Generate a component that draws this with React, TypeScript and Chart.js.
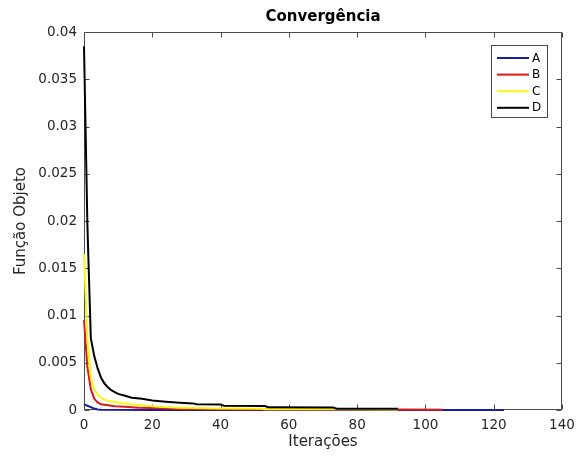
import React, { useEffect, useRef } from "react";
import { Chart, registerables } from "chart.js";

Chart.register(...registerables);

const chartTitle = "Convergência";
const xTitle = "Iterações";
const yTitle = "Função Objeto";

const xTicks = [0, 20, 40, 60, 80, 100, 120, 140];
const yTicks = [0, 0.005, 0.01, 0.015, 0.02, 0.025, 0.03, 0.035, 0.04];
const yTickLabels = ["0", "0.005", "0.01", "0.015", "0.02", "0.025", "0.03", "0.035", "0.04"];

const seriesLabels = ["A", "B", "C", "D"];
const seriesColors = ["#1c1ca0", "#e01818", "#f8f810", "#000000"];

const aX = [0, 1, 2, 3, 4, 5, 20, 123];
const aY = [0.0006, 0.00045, 0.0003, 0.00015, 0.00005, 0.00002, 0.00001, 0.000005];

const bX = [0, 1, 2, 3, 4, 5, 7, 9, 12, 16, 20, 26, 27, 40, 60, 92, 105];
const bY = [0.0095, 0.0045, 0.0022, 0.0012, 0.0008, 0.0006, 0.0005, 0.0004, 0.00035, 0.00025, 0.0002, 0.00015, 0.0001, 0.00008, 0.00006, 0.00004, 0.00003];

const cX = [0, 1, 2, 3, 4, 5, 6, 8, 10, 14, 18, 22, 28, 35, 40, 52, 53, 73, 92];
const cY = [0.0165, 0.0075, 0.0035, 0.0022, 0.0016, 0.0013, 0.0011, 0.0009, 0.0008, 0.0006, 0.00045, 0.00035, 0.00025, 0.00018, 0.00015, 0.00012, 0.00008, 0.00008, 0.00005];

const dX = [0, 1, 2, 3, 4, 5, 6, 7, 8, 9, 10, 12, 14, 17, 20, 24, 28, 32, 33, 40, 41, 53, 54, 73, 74, 92];
const dY = [0.0385, 0.0195, 0.0076, 0.0057, 0.0044, 0.0034, 0.0028, 0.0024, 0.0021, 0.0019, 0.0017, 0.0015, 0.0013, 0.0012, 0.001, 0.00088, 0.00078, 0.0007, 0.00062, 0.00058, 0.00045, 0.00042, 0.00028, 0.00026, 0.00014, 0.00012];

const seriesX = [aX, bX, cX, dX];
const seriesY = [aY, bY, cY, dY];

const FONT = "DejaVu Sans";
const TEXT = "#262626";
const AXIS = "#4a4a4a";

const framePlugin = {
  id: "frame",
  beforeDatasetsDraw(chart: any) {
    const { ctx, chartArea } = chart;
    const { left, right, top, bottom } = chartArea;
    const xs = chart.scales.x;
    const ys = chart.scales.y;
    ctx.save();
    ctx.fillStyle = "#ffffff";
    ctx.strokeStyle = AXIS;
    ctx.lineWidth = 1;
    const L = Math.round(left) + 0.5;
    const R = Math.round(right) - 0.5;
    const T = Math.round(top) + 0.5;
    const B = Math.round(bottom) - 0.5;
    ctx.beginPath();
    ctx.rect(L, T, R - L, B - T);
    ctx.stroke();
    const tl = 5;
    ctx.beginPath();
    xTicks.forEach((v) => {
      const px = Math.round(xs.getPixelForValue(v)) + 0.5;
      ctx.moveTo(px, B);
      ctx.lineTo(px, B - tl);
      ctx.moveTo(px, T);
      ctx.lineTo(px, T + tl);
    });
    yTicks.forEach((v) => {
      const py = Math.round(ys.getPixelForValue(v)) + 0.5;
      ctx.moveTo(L, py);
      ctx.lineTo(L + tl, py);
      ctx.moveTo(R, py);
      ctx.lineTo(R - tl, py);
    });
    ctx.stroke();
    ctx.restore();
  },
  afterDraw(chart: any) {
    const { ctx, chartArea } = chart;
    ctx.save();
    // title
    ctx.fillStyle = "#000000";
    ctx.font = `bold 15px "${FONT}"`;
    ctx.textAlign = "center";
    ctx.textBaseline = "middle";
    ctx.fillText(chartTitle, (chartArea.left + chartArea.right) / 2, 17);

    // legend box
    const bx = 491.5, by = 45.5, bw = 56, bh = 72;
    ctx.fillStyle = "#ffffff";
    ctx.fillRect(bx, by, bw, bh);
    ctx.strokeStyle = AXIS;
    ctx.lineWidth = 1;
    ctx.strokeRect(bx, by, bw, bh);
    const rowH = 16.6;
    ctx.font = `12px "${FONT}"`;
    ctx.textAlign = "left";
    chart.data.datasets.forEach((ds: any, i: number) => {
      const y = 58 + i * rowH;
      ctx.strokeStyle = ds.borderColor;
      ctx.lineWidth = 2;
      ctx.beginPath();
      ctx.moveTo(497, y);
      ctx.lineTo(529, y);
      ctx.stroke();
      ctx.fillStyle = "#000000";
      ctx.fillText(ds.label, 532, y + 0.5);
    });
    ctx.restore();
  },
};

export default function App() {
  const canvasRef = useRef<HTMLCanvasElement | null>(null);

  useEffect(() => {
    if (!canvasRef.current) return;
    const datasets = seriesLabels.map((label, i) => ({
      label,
      data: seriesX[i].map((x, j) => ({ x, y: seriesY[i][j] })),
      borderColor: seriesColors[i],
      backgroundColor: seriesColors[i],
      borderWidth: 2,
      pointRadius: 0,
      tension: 0,
      fill: false,
      clip: false as any,
      order: seriesLabels.length - 1 - i,
    }));
    const chart = new Chart(canvasRef.current, {
      type: "line",
      data: { datasets },
      options: {
        responsive: false,
        animation: false,
        devicePixelRatio: 1,
        layout: { padding: { top: 32, right: 20, left: 0, bottom: 0 } },
        plugins: {
          legend: { display: false },
          title: { display: false },
          tooltip: { enabled: false },
        },
        scales: {
          x: {
            type: "linear",
            min: 0,
            max: 140,
            position: "bottom",
            afterBuildTicks: (s: any) => {
              s.ticks = xTicks.map((v) => ({ value: v }));
            },
            afterFit: (s: any) => {
              s.height = 48;
            },
            grid: { display: false, drawTicks: false },
            border: { display: false },
            ticks: {
              font: { family: FONT, size: 13.5 },
              color: TEXT,
              padding: 7,
              maxRotation: 0,
              autoSkip: false,
            },
            title: {
              display: true,
              text: xTitle,
              font: { family: FONT, size: 15 },
              color: TEXT,
              padding: { top: 0, bottom: 7 },
            },
          },
          y: {
            type: "linear",
            min: 0,
            max: 0.04,
            afterBuildTicks: (s: any) => {
              s.ticks = yTicks.map((v) => ({ value: v }));
            },
            afterFit: (s: any) => {
              s.width = 84;
            },
            grid: { display: false, drawTicks: false },
            border: { display: false },
            ticks: {
              font: { family: FONT, size: 13.5 },
              color: TEXT,
              padding: 7,
              autoSkip: false,
              callback: (v: any) => {
                const idx = yTicks.indexOf(v);
                return idx >= 0 ? yTickLabels[idx] : "";
              },
            },
            title: {
              display: true,
              text: yTitle,
              font: { family: FONT, size: 15 },
              color: TEXT,
              padding: { top: 12, bottom: 0 },
            },
          },
        },
      },
      plugins: [framePlugin],
    });
    return () => chart.destroy();
  }, []);

  return (
    <div style={{ position: "fixed", left: 0, top: 0, width: 582, height: 458, background: "#ffffff" }}>
      <canvas ref={canvasRef} width={582} height={458} />
    </div>
  );
}
